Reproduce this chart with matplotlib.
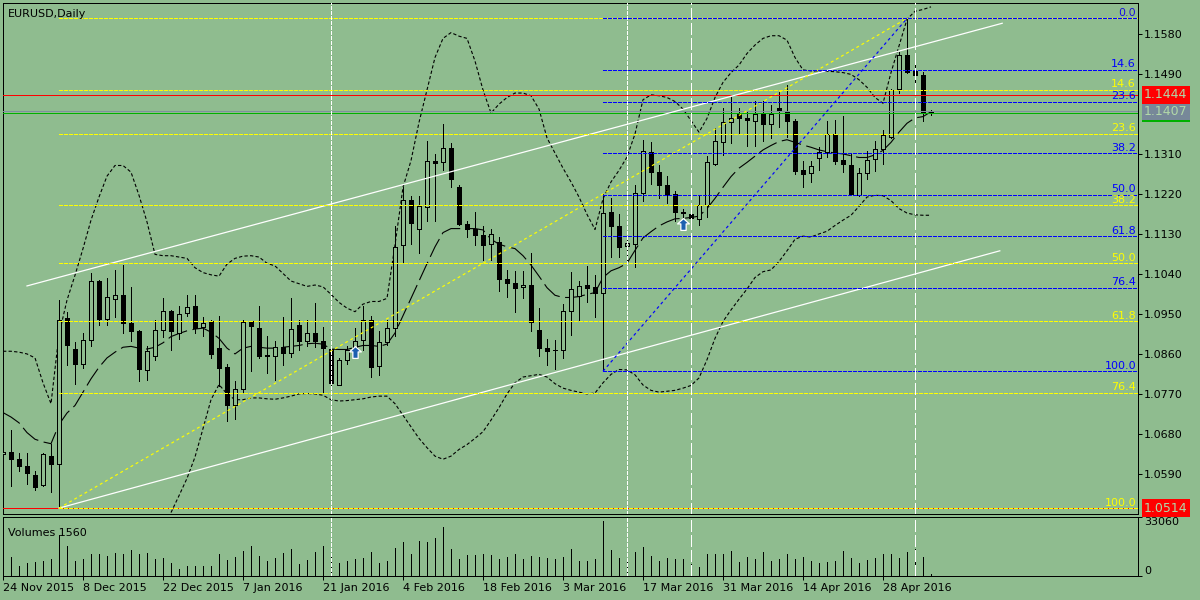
import numpy as np
import matplotlib
matplotlib.use('Agg')
import matplotlib.pyplot as plt
from matplotlib.path import Path

# ---------------- data ----------------
opens = [1.0636, 1.0641, 1.0624, 1.0609, 1.0588, 1.0566, 1.0631, 1.0613, 1.0941, 1.0872,
         1.0838, 1.0893, 1.1025, 1.0940, 1.0985, 1.0993, 1.0930, 1.0912, 1.0824, 1.0857,
         1.0915, 1.0957, 1.0908, 1.0953, 1.0969, 1.0921, 1.0934, 1.0874, 1.0831, 1.0746,
         1.0781, 1.0934, 1.0919, 1.0857, 1.0857, 1.0876, 1.0864, 1.0926, 1.0891, 1.0908,
         1.0889, 1.0872, 1.0792, 1.0848, 1.0872, 1.0893, 1.0938, 1.0833, 1.0887, 1.0919,
         1.1105, 1.1208, 1.1143, 1.1192, 1.1294, 1.1292, 1.1324, 1.1236, 1.1154, 1.1143,
         1.1128, 1.1108, 1.1113, 1.1029, 1.1020, 1.1012, 1.1017, 1.0915, 1.0874, 1.0869,
         1.0870, 1.0957, 1.0992, 1.1016, 1.1012, 1.0999, 1.1181, 1.1148, 1.1104, 1.1108,
         1.1224, 1.1316, 1.1270, 1.1242, 1.1220, 1.1181, 1.1175, 1.1165, 1.1195, 1.1289,
         1.1337, 1.1382, 1.1402, 1.1392, 1.1385, 1.1401, 1.1378, 1.1414, 1.1408, 1.1386,
         1.1274, 1.1267, 1.1302, 1.1315, 1.1356, 1.1298, 1.1287, 1.1218, 1.1268, 1.1300,
         1.1322, 1.1350, 1.1457, 1.1534, 1.1498, 1.1488, 1.1405]
highs = [1.0645, 1.0689, 1.0637, 1.0639, 1.0597, 1.0637, 1.0659, 1.0982, 1.0956, 1.0887,
         1.0908, 1.1044, 1.1027, 1.1031, 1.1049, 1.1061, 1.1012, 1.0915, 1.0878, 1.0938,
         1.0986, 1.0960, 1.0969, 1.0994, 1.0994, 1.0943, 1.0938, 1.0947, 1.0838, 1.0801,
         1.0938, 1.0936, 1.0969, 1.0901, 1.0889, 1.0945, 1.0986, 1.0938, 1.0938, 1.0975,
         1.0921, 1.0874, 1.0852, 1.0878, 1.0919, 1.0969, 1.0947, 1.0913, 1.0938, 1.1149,
         1.1236, 1.1217, 1.1217, 1.1341, 1.1311, 1.1379, 1.1335, 1.1240, 1.1160, 1.1180,
         1.1149, 1.1141, 1.1125, 1.1050, 1.1048, 1.1048, 1.1089, 1.0964, 1.0895, 1.0893,
         1.0973, 1.1046, 1.1026, 1.1059, 1.1038, 1.1220, 1.1211, 1.1175, 1.1125, 1.1242,
         1.1343, 1.1337, 1.1285, 1.1261, 1.1227, 1.1188, 1.1186, 1.1218, 1.1306, 1.1369,
         1.1414, 1.1440, 1.1414, 1.1405, 1.1429, 1.1429, 1.1421, 1.1451, 1.1466, 1.1390,
         1.1296, 1.1296, 1.1326, 1.1386, 1.1388, 1.1397, 1.1313, 1.1280, 1.1317, 1.1339,
         1.1365, 1.1458, 1.1541, 1.1616, 1.1531, 1.1496, 1.1410]
lows = [1.0632, 1.0564, 1.0598, 1.0568, 1.0555, 1.0564, 1.0551, 1.0514, 1.0835, 1.0794,
        1.0829, 1.0878, 1.0926, 1.0927, 1.0943, 1.0908, 1.0891, 1.0801, 1.0803, 1.0848,
        1.0900, 1.0870, 1.0895, 1.0947, 1.0908, 1.0901, 1.0852, 1.0788, 1.0709, 1.0715,
        1.0775, 1.0822, 1.0852, 1.0818, 1.0803, 1.0835, 1.0855, 1.0870, 1.0878, 1.0876,
        1.0775, 1.0788, 1.0790, 1.0839, 1.0852, 1.0870, 1.0809, 1.0814, 1.0882, 1.0901,
        1.1068, 1.1108, 1.1087, 1.1160, 1.1160, 1.1274, 1.1236, 1.1150, 1.1124, 1.1105,
        1.1072, 1.1072, 1.1003, 1.0990, 1.0956, 1.0986, 1.0913, 1.0857, 1.0835, 1.0827,
        1.0852, 1.0904, 1.0938, 1.0977, 1.0945, 1.0822, 1.1079, 1.1079, 1.1063, 1.1056,
        1.1205, 1.1244, 1.1211, 1.1201, 1.1160, 1.1158, 1.1156, 1.1151, 1.1168, 1.1285,
        1.1309, 1.1335, 1.1358, 1.1328, 1.1328, 1.1339, 1.1347, 1.1372, 1.1349, 1.1266,
        1.1236, 1.1247, 1.1274, 1.1303, 1.1289, 1.1270, 1.1218, 1.1216, 1.1254, 1.1272,
        1.1289, 1.1346, 1.1448, 1.1494, 1.1466, 1.1386, 1.1399]
closes = [1.0641, 1.0624, 1.0609, 1.0594, 1.0562, 1.0635, 1.0614, 1.0938, 1.0881, 1.0838,
          1.0893, 1.1025, 1.0940, 1.0988, 1.0993, 1.0930, 1.0912, 1.0827, 1.0867, 1.0915,
          1.0957, 1.0912, 1.0951, 1.0966, 1.0919, 1.0930, 1.0861, 1.0829, 1.0747, 1.0781,
          1.0932, 1.0924, 1.0857, 1.0858, 1.0876, 1.0864, 1.0917, 1.0891, 1.0908, 1.0889,
          1.0874, 1.0796, 1.0848, 1.0870, 1.0891, 1.0938, 1.0831, 1.0887, 1.0919, 1.1102,
          1.1208, 1.1156, 1.1194, 1.1294, 1.1290, 1.1324, 1.1255, 1.1154, 1.1143, 1.1128,
          1.1106, 1.1130, 1.1029, 1.1020, 1.1010, 1.1017, 1.0932, 1.0874, 1.0867, 1.0870,
          1.0957, 1.1006, 1.1014, 1.1010, 1.0999, 1.1177, 1.1148, 1.1102, 1.1110, 1.1224,
          1.1317, 1.1270, 1.1242, 1.1218, 1.1181, 1.1177, 1.1166, 1.1197, 1.1293, 1.1341,
          1.1382, 1.1391, 1.1391, 1.1388, 1.1401, 1.1378, 1.1401, 1.1408, 1.1386, 1.1273,
          1.1266, 1.1283, 1.1315, 1.1356, 1.1296, 1.1289, 1.1220, 1.1267, 1.1298, 1.1322,
          1.1354, 1.1455, 1.1534, 1.1496, 1.1488, 1.1403, 1.1407]
volumes = [9500, 10700, 5400, 7500, 7900, 8600, 9600, 23100, 16500, 8600,
           9600, 12400, 12200, 11100, 12900, 12400, 14600, 12400, 12900, 9600,
           10200, 7500, 3900, 5800, 5800, 5800, 5800, 12200, 9000, 10700,
           13900, 16500, 11100, 8600, 10100, 12900, 15000, 6900, 9000, 13300,
           16500, 11400, 7500, 8100, 9200, 10100, 13300, 7500, 8100, 15600,
           18900, 12200, 19300, 18900, 21000, 27200, 15000, 9200, 11800, 11800,
           12000, 11800, 9200, 10700, 12400, 9200, 11400, 10700, 10300, 9200,
           10700, 15000, 8100, 8600, 9200, 30400, 14600, 10100, 9200, 13300,
           16000, 11100, 8600, 10100, 9200, 9200, 6900, 4900, 12200, 12200,
           12200, 13900, 7900, 10700, 9200, 13300, 8600, 9200, 12200, 9200,
           10400, 8100, 7500, 7900, 8100, 13900, 10100, 7500, 9000, 10300,
           12200, 12400, 10100, 13300, 15000, 10700, 1100]
bb_upper = [1.0867, 1.0867, 1.0865, 1.0861, 1.0852, 1.0796, 1.0749, 1.0905, 1.0982, 1.1038,
            1.1098, 1.1162, 1.1214, 1.1261, 1.1285, 1.1285, 1.1270, 1.1218, 1.1158, 1.1085,
            1.1082, 1.1082, 1.1079, 1.1076, 1.1055, 1.1044, 1.1039, 1.1036, 1.1063, 1.1076,
            1.1081, 1.1082, 1.1079, 1.1065, 1.1059, 1.1042, 1.1025, 1.1019, 1.1013, 1.1016,
            1.1012, 1.0995, 1.0977, 1.0964, 1.0956, 1.0973, 1.0979, 1.0979, 1.0986, 1.1106,
            1.1236, 1.1296, 1.1382, 1.1455, 1.1528, 1.1571, 1.1584, 1.1576, 1.1571, 1.1520,
            1.1455, 1.1403, 1.1423, 1.1438, 1.1448, 1.1448, 1.1442, 1.1412, 1.1347, 1.1313,
            1.1279, 1.1248, 1.1214, 1.1175, 1.1141, 1.1210, 1.1248, 1.1274, 1.1304, 1.1356,
            1.1433, 1.1444, 1.1442, 1.1438, 1.1429, 1.1412, 1.1386, 1.1360, 1.1391, 1.1438,
            1.1472, 1.1494, 1.1511, 1.1537, 1.1556, 1.1571, 1.1577, 1.1577, 1.1567, 1.1528,
            1.1500, 1.1498, 1.1497, 1.1497, 1.1496, 1.1494, 1.1490, 1.1478, 1.1461, 1.1438,
            1.1425, 1.1494, 1.1554, 1.1614, 1.1632, 1.1636, 1.1642]
bb_middle = [1.0729, 1.0719, 1.0706, 1.0684, 1.0669, 1.0663, 1.0659, 1.0702, 1.0728, 1.0745,
             1.0775, 1.0805, 1.0831, 1.0852, 1.0865, 1.0876, 1.0878, 1.0874, 1.0872, 1.0876,
             1.0886, 1.0900, 1.0907, 1.0913, 1.0917, 1.0919, 1.0910, 1.0896, 1.0874, 1.0861,
             1.0874, 1.0878, 1.0876, 1.0874, 1.0874, 1.0876, 1.0878, 1.0880, 1.0884, 1.0885,
             1.0883, 1.0872, 1.0871, 1.0871, 1.0876, 1.0880, 1.0880, 1.0878, 1.0883, 1.0908,
             1.0947, 1.0986, 1.1025, 1.1064, 1.1102, 1.1134, 1.1143, 1.1143, 1.1143, 1.1143,
             1.1140, 1.1119, 1.1108, 1.1102, 1.1098, 1.1082, 1.1061, 1.1036, 1.1010, 1.0993,
             1.0988, 1.0988, 1.0990, 1.0995, 1.0999, 1.1033, 1.1048, 1.1055, 1.1065, 1.1094,
             1.1122, 1.1136, 1.1149, 1.1158, 1.1165, 1.1166, 1.1168, 1.1171, 1.1188, 1.1211,
             1.1236, 1.1260, 1.1279, 1.1292, 1.1306, 1.1320, 1.1330, 1.1339, 1.1343, 1.1337,
             1.1331, 1.1326, 1.1320, 1.1316, 1.1313, 1.1311, 1.1307, 1.1303, 1.1303, 1.1309,
             1.1319, 1.1337, 1.1360, 1.1380, 1.1392, 1.1395, 1.1406]
nan = float('nan')
bb_lower = [nan] * 21 + [
            1.0504, 1.0542, 1.0581, 1.0629, 1.0693, 1.0758, 1.0792, 1.0771, 1.0758,
            1.0758, 1.0762, 1.0762, 1.0760, 1.0759, 1.0762, 1.0766, 1.0771, 1.0772, 1.0771,
            1.0768, 1.0758, 1.0755, 1.0756, 1.0758, 1.0760, 1.0764, 1.0766, 1.0766, 1.0749,
            1.0723, 1.0697, 1.0671, 1.0650, 1.0631, 1.0624, 1.0631, 1.0646, 1.0657, 1.0671,
            1.0686, 1.0712, 1.0740, 1.0771, 1.0796, 1.0809, 1.0812, 1.0815, 1.0809, 1.0794,
            1.0784, 1.0779, 1.0775, 1.0771, 1.0773, 1.0796, 1.0815, 1.0826, 1.0825, 1.0814,
            1.0791, 1.0779, 1.0775, 1.0777, 1.0779, 1.0784, 1.0790, 1.0807, 1.0848, 1.0896,
            1.0934, 1.0960, 1.0984, 1.1007, 1.1033, 1.1046, 1.1050, 1.1069, 1.1093, 1.1119,
            1.1126, 1.1124, 1.1131, 1.1137, 1.1150, 1.1162, 1.1173, 1.1193, 1.1214, 1.1218,
            1.1217, 1.1206, 1.1188, 1.1178, 1.1174, 1.1173, 1.1173]

date_labels = ['24 Nov 2015', '8 Dec 2015', '22 Dec 2015', '7 Jan 2016', '21 Jan 2016',
               '4 Feb 2016', '18 Feb 2016', '3 Mar 2016', '17 Mar 2016', '31 Mar 2016',
               '14 Apr 2016', '28 Apr 2016']
date_label_bars = [0, 10, 20, 30, 40, 50, 60, 70, 80, 90, 100, 110]
price_ticks = [1.0590, 1.0680, 1.0770, 1.0860, 1.0950, 1.1040, 1.1130, 1.1220,
               1.1310, 1.1490, 1.1580]
fib_levels = [0.0, 14.6, 23.6, 38.2, 50.0, 61.8, 76.4, 100.0]
fib_yellow_bars = [7, 113]
fib_yellow_prices = [1.0514, 1.1616]
fib_blue_bars = [75, 113]
fib_blue_prices = [1.0822, 1.1616]
channel_up_bars = [3, 124.9]
channel_up_prices = [1.1014, 1.1605]
channel_low_bars = [7, 124.6]
channel_low_prices = [1.0514, 1.1093]
vline_dot_bars = [41, 78]
vline_dash_bars = [86, 114]
arrow_bars = [44, 85]
arrow_prices = [1.0866, 1.1154]
red_line_prices = [1.1444, 1.0514]
bid_price = 1.1407
green_price = 1.1404
volume_scale_max = 33060
title_text = 'EURUSD,Daily'
volume_title = 'Volumes 1560'

# ---------------- style ----------------
BG = '#8FBC8F'
BOXTXT = '#B2D8A8'
LW = 0.72  # ~1 pixel at 100 dpi
FS = 8
CRISP = False  # horizontal / vertical lines drawn without antialiasing (pixel crisp)
plt.rcParams['font.family'] = ['DejaVu Sans']

fig = plt.figure(figsize=(12, 6), dpi=100, facecolor=BG)
W, H = 1200.0, 600.0
left_px, right_px = 2.5, 1138.0
main_top, main_bot = 2.7, 513.6
vol_top, vol_bot = 516.7, 576.0
ax = fig.add_axes([left_px / W, 1 - main_bot / H, (right_px - left_px) / W, (main_bot - main_top) / H])
axv = fig.add_axes([left_px / W, 1 - vol_bot / H, (right_px - left_px) / W, (vol_bot - vol_top) / H])

xmin = (left_px - 3) / 8.0
xmax = (right_px - 3) / 8.0
for a in (ax, axv):
    a.set_facecolor(BG)
    a.set_xlim(xmin, xmax)
    for s in a.spines.values():
        s.set_color('black')
        s.set_linewidth(LW)
        s.set_antialiased(CRISP)
ax.set_ylim(1.05017, 1.16513)
axv.set_ylim(0, volume_scale_max)

n = len(opens)
x = np.arange(n)
o = np.array(opens); h = np.array(highs); l = np.array(lows); c = np.array(closes)

# indicators (under candles), antialiased curves
ax.plot(x, bb_upper, color='black', lw=0.8, ls=(0, (3, 2)), zorder=2)
ax.plot(x, bb_lower, color='black', lw=0.8, ls=(0, (3, 2)), zorder=2)
ax.plot(x, bb_middle, color='black', lw=0.8, ls=(0, (18, 5)), zorder=2)

# candles
ax.vlines(x, l, h, color='black', lw=LW, zorder=4, antialiased=CRISP)
up = c >= o
bot = np.minimum(o, c)
hgt = np.abs(c - o)
ax.bar(x[up], hgt[up], bottom=bot[up], width=0.5, facecolor=BG, edgecolor='black',
       linewidth=LW, zorder=5, antialiased=CRISP)
ax.bar(x[~up], hgt[~up], bottom=bot[~up], width=0.5, facecolor='black', edgecolor='black',
       linewidth=LW, zorder=5, antialiased=CRISP)

# objects
for p in red_line_prices:
    ax.axhline(p, color='#FF0000', lw=LW, zorder=6, antialiased=CRISP)
ax.axhline(bid_price, color='#7F8F9F', lw=LW, zorder=6, antialiased=CRISP)
ax.axhline(green_price, color='#00B000', lw=LW, zorder=6, antialiased=CRISP)

ax.plot(channel_up_bars, channel_up_prices, color='white', lw=0.9, zorder=6)
ax.plot(channel_low_bars, channel_low_prices, color='white', lw=0.9, zorder=6)

def fib(bars, prices, color):
    lo, hi = prices[0], prices[1]
    ax.plot(bars, prices, color=color, lw=0.85, ls=(0, (2.5, 2.5)), zorder=6)
    for lev in fib_levels:
        p = hi - lev / 100.0 * (hi - lo)
        ax.hlines(p, bars[0], xmax, color=color, lw=LW, ls=(0, (4, 2)), zorder=6,
                  antialiased=CRISP)
        ax.annotate('%.1f' % lev, xy=(1, p), xycoords=('axes fraction', 'data'),
                    xytext=(-2, 2.5), textcoords='offset pixels', ha='right', va='baseline',
                    color=color, fontsize=FS, zorder=7)

fib(fib_yellow_bars, fib_yellow_prices, '#FFFF00')
fib(fib_blue_bars, fib_blue_prices, '#0000FF')

for a in (ax, axv):
    for b in vline_dot_bars:
        a.axvline(b, color='white', lw=LW, ls=(0, (4, 2)), zorder=6, antialiased=CRISP)
    for b in vline_dash_bars:
        a.axvline(b, color='white', lw=LW, ls=(0, (11, 4)), zorder=6, antialiased=CRISP)

# arrows
arrow_path = Path([(0, 1), (1, 0.1), (0.45, 0.1), (0.45, -1), (-0.45, -1), (-0.45, 0.1),
                   (-1, 0.1), (0, 1)], closed=True)
ax.plot(arrow_bars, arrow_prices, ls='none', marker=arrow_path, markersize=8.5,
        markerfacecolor='#1C5FB0', markeredgecolor='white', markeredgewidth=0.9, zorder=8)

# price boxes at the right
def price_box(p, fc, txt):
    ax.annotate(txt, xy=(1, p), xycoords=('axes fraction', 'data'), xytext=(6, 0),
                textcoords='offset pixels', ha='left', va='center', color=BOXTXT,
                fontsize=FS + 1, annotation_clip=False, zorder=9,
                bbox=dict(boxstyle='square,pad=0.18', fc=fc, ec='none'))

price_box(green_price - 0.00025, '#00B000', '%.4f' % bid_price)
price_box(bid_price, '#778899', '%.4f' % bid_price)
price_box(red_line_prices[0], '#FF0000', '%.4f' % red_line_prices[0])
price_box(red_line_prices[1], '#FF0000', '%.4f' % red_line_prices[1])

# title
ax.text(5 / (right_px - left_px), 1 - 14.5 / (main_bot - main_top), title_text,
        transform=ax.transAxes, fontsize=FS, color='black', va='baseline', ha='left', zorder=9)

# axes ticks
ax.yaxis.tick_right()
ax.set_yticks(price_ticks)
ax.set_yticklabels(['%.4f' % t for t in price_ticks])
ax.tick_params(axis='y', direction='out', length=3, width=LW, pad=1.5, labelsize=FS,
               colors='black')
ax.set_xticks([])

# volume panel
axv.vlines(x, 0, volumes, color='black', lw=LW, zorder=4, antialiased=CRISP)
axv.yaxis.tick_right()
axv.set_yticks([0, volume_scale_max])
axv.set_yticklabels(['0', str(volume_scale_max)])
axv.tick_params(axis='y', direction='out', length=3, width=LW, pad=1.5, labelsize=FS)
labs = axv.get_yticklabels()
labs[0].set_va('bottom')
labs[1].set_va('top')
axv.set_xticks(date_label_bars)
axv.set_xticklabels(date_labels, ha='left')
axv.tick_params(axis='x', direction='out', length=3, width=LW, pad=2, labelsize=FS)
axv.text(6 / (right_px - left_px), 0.72, volume_title, transform=axv.transAxes,
         fontsize=FS, va='center', ha='left')

fig.savefig('out.png', dpi=100, facecolor=BG)
